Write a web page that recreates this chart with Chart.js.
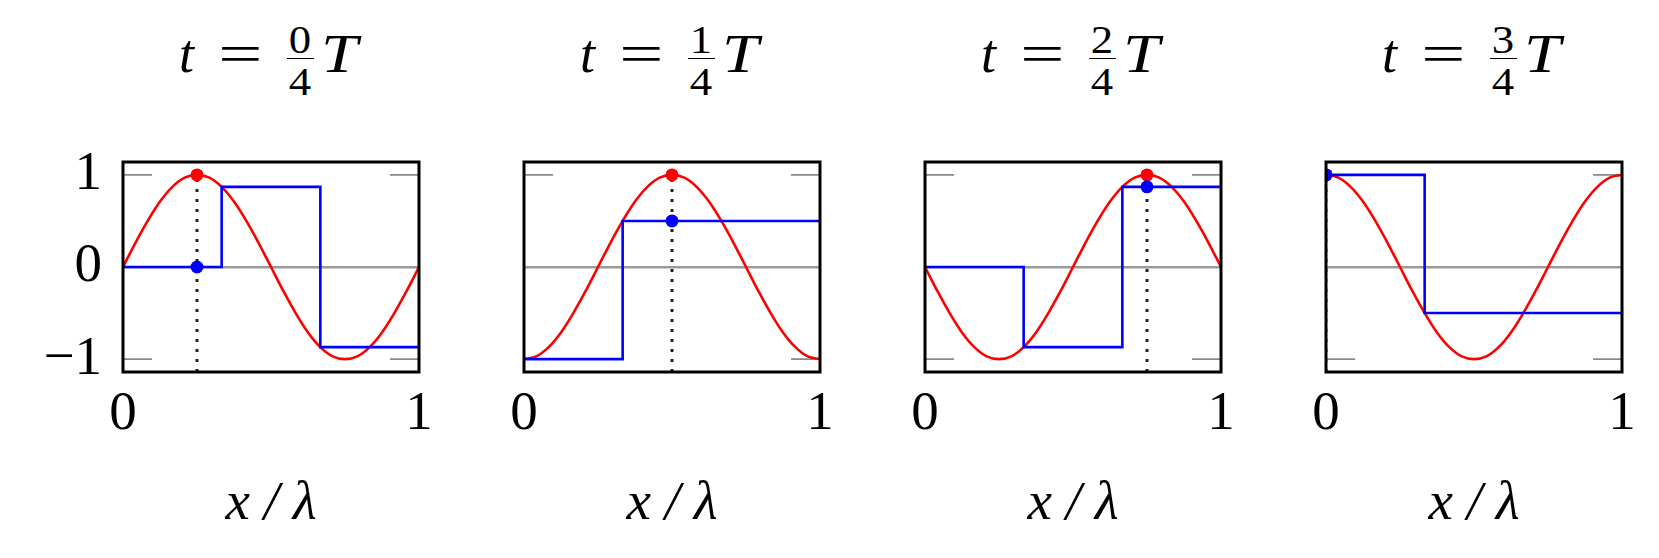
<!DOCTYPE html>
<html>
<head>
<meta charset="utf-8">
<script src="https://cdn.jsdelivr.net/npm/chart.js@4.4.0/dist/chart.umd.min.js"></script>
<style>
  html, body { margin: 0; padding: 0; background: #fff; }
  #wrap { position: relative; width: 1659px; height: 558px; overflow: hidden; }
  #wrap canvas { position: absolute; top: 100px; }
  .title {
    position: absolute; top: 0; width: 0; height: 110px;
    font-family: "Liberation Serif", serif; color: #000;
  }
  .title span { position: absolute; line-height: 0; white-space: nowrap; }
  .title .main { font-size: 54px; top: 54px; }
  .title .it { font-style: italic; }
  .title .eq { display: inline-block; transform: scaleX(1.45); transform-origin: 50% 0; }
  .title .wide { display: inline-block; transform: scaleX(1.22); transform-origin: 0 0; }
  .title .num, .title .den { font-size: 40px; transform: translateX(-50%) scaleX(1.12); }
  .title .num { top: 39.5px; }
  .title .den { top: 81.5px; }
  .title .bar { position: absolute; top: 57.7px; height: 1.3px; background: #000; }
</style>
</head>
<body>
<div id="wrap"></div>
<script>
// ── data ──────────────────────────────────────────────
const titleNumerators = ['0', '1', '2', '3'];
const titleDenominator = '4';

const xTickValues = [0, 1];
const yTickValues = [-1, 0, 1];
const yMin = -1.14, yMax = 1.14;

// wave sampled at x = k/24
const waveX = [0, 0.0417, 0.0833, 0.125, 0.1667, 0.2083, 0.25, 0.2917, 0.3333, 0.375, 0.4167, 0.4583,
               0.5, 0.5417, 0.5833, 0.625, 0.6667, 0.7083, 0.75, 0.7917, 0.8333, 0.875, 0.9167, 0.9583, 1];
const waveY0 = [0, 0.26, 0.5, 0.71, 0.87, 0.97, 1, 0.97, 0.87, 0.71, 0.5, 0.26,
                0, -0.26, -0.5, -0.71, -0.87, -0.97, -1, -0.97, -0.87, -0.71, -0.5, -0.26, 0];
const waveY1 = [-1, -0.97, -0.87, -0.71, -0.5, -0.26, 0, 0.26, 0.5, 0.71, 0.87, 0.97,
                1, 0.97, 0.87, 0.71, 0.5, 0.26, 0, -0.26, -0.5, -0.71, -0.87, -0.97, -1];
const waveY2 = [0, -0.26, -0.5, -0.71, -0.87, -0.97, -1, -0.97, -0.87, -0.71, -0.5, -0.26,
                0, 0.26, 0.5, 0.71, 0.87, 0.97, 1, 0.97, 0.87, 0.71, 0.5, 0.26, 0];
const waveY3 = [1, 0.97, 0.87, 0.71, 0.5, 0.26, 0, -0.26, -0.5, -0.71, -0.87, -0.97,
                -1, -0.97, -0.87, -0.71, -0.5, -0.26, 0, 0.26, 0.5, 0.71, 0.87, 0.97, 1];

// sampled (held) values
const stepX = [0, 0.3333, 0.6667, 1];
const stepY0 = [0, 0.87, -0.87, -0.87];
const stepY1 = [-1, 0.5, 0.5, 0.5];
const stepY2 = [0, -0.87, 0.87, 0.87];
const stepY3 = [1, -0.5, -0.5, -0.5];

const markerX = [0.25, 0.5, 0.75, 0];
const redMarkerY = [1, 1, 1, 1];
const blueMarkerY = [0, 0.5, 0.87, 1];

const waves = [waveY0, waveY1, waveY2, waveY3];
const steps = [stepY0, stepY1, stepY2, stepY3];

// ── layout ────────────────────────────────────────────
const canvasLeft = [1, 402, 803, 1204];
const CW = 448, CH = 458;
const PAD_TOP = 62;
const AXIS_W = 122, AXIS_H = 186;
const BOX_W = 296;
const serif = '"Liberation Serif", serif';

const fmt = v => v < 0 ? '\u2212' + Math.abs(v) : String(v);

/* frame + inner tick marks */
const framePlugin = {
  id: 'frame',
  beforeDatasetsDraw(chart) {
    const { ctx, chartArea: a, scales: { y } } = chart;
    ctx.save();
    ctx.strokeStyle = '#8a8a8a';
    ctx.lineWidth = 1.6;
    yTickValues.filter(v => v !== 0).forEach(v => {
      const py = y.getPixelForValue(v);
      ctx.beginPath();
      ctx.moveTo(a.left, py); ctx.lineTo(a.left + 29, py);
      ctx.moveTo(a.right - 29, py); ctx.lineTo(a.right, py);
      ctx.stroke();
    });
    ctx.restore();
  },
  afterDraw(chart) {
    const { ctx, chartArea: a } = chart;
    ctx.save();
    ctx.strokeStyle = '#000';
    ctx.lineWidth = 3;
    ctx.strokeRect(a.left, a.top, a.right - a.left, a.bottom - a.top);
    ctx.restore();
  }
};

const wrap = document.getElementById('wrap');

titleNumerators.forEach((num, i) => {
  // title: t = (num/den) T, placed around the panel centre
  const t = document.createElement('div');
  t.className = 'title';
  t.style.left = (canvasLeft[i] + AXIS_W + BOX_W / 2) + 'px';
  t.innerHTML =
    '<span class="main it" style="left:-92px">t</span>' +
    '<span class="main" style="left:-46px"><span class="eq" style="position:static">=</span></span>' +
    '<span class="num" style="left:29px">' + num + '</span>' +
    '<div class="bar" style="left:15.5px;width:27px"></div>' +
    '<span class="den" style="left:29px">' + titleDenominator + '</span>' +
    '<span class="main it" style="left:50px"><span class="wide" style="position:static">T</span></span>';
  wrap.appendChild(t);

  const cv = document.createElement('canvas');
  cv.width = CW; cv.height = CH;
  cv.style.left = canvasLeft[i] + 'px';
  wrap.appendChild(cv);

  const tickFont = { family: serif, size: 55, lineHeight: 1 };

  new Chart(cv, {
    type: 'line',
    data: {
      datasets: [
        { data: [{ x: markerX[i], y: blueMarkerY[i] }], showLine: false, pointRadius: 6.5,
          pointBackgroundColor: '#0000ff', pointBorderWidth: 0, clip: 0 },
        { data: [{ x: markerX[i], y: redMarkerY[i] }], showLine: false, pointRadius: 6.5,
          pointBackgroundColor: '#ff0000', pointBorderWidth: 0, clip: 0 },
        { data: stepX.map((x, k) => ({ x, y: steps[i][k] })), borderColor: '#0000ff',
          borderWidth: 2.6, stepped: true, pointRadius: 0, clip: 0 },
        { data: waveX.map((x, k) => ({ x, y: waves[i][k] })), borderColor: '#ff0000',
          borderWidth: 2.6, cubicInterpolationMode: 'monotone', pointRadius: 0, clip: 0 },
        { data: [{ x: markerX[i], y: yMin }, { x: markerX[i], y: yMax }], borderColor: '#222',
          borderWidth: 3, borderDash: [3, 7], pointRadius: 0, clip: 0 }
      ]
    },
    options: {
      responsive: false,
      animation: false,
      events: [],
      layout: { padding: { top: PAD_TOP, right: CW - AXIS_W - BOX_W, bottom: 0, left: 0 } },
      plugins: { legend: { display: false }, tooltip: { enabled: false } },
      scales: {
        x: {
          type: 'linear', min: 0, max: 1,
          afterBuildTicks: s => { s.ticks = xTickValues.map(v => ({ value: v })); },
          afterFit: s => { s.height = AXIS_H; },
          grid: { display: false, drawTicks: false },
          border: { display: false },
          ticks: { padding: 15, font: tickFont, color: '#000', maxRotation: 0, autoSkip: false,
                   callback: v => fmt(v) },
          title: { display: true, text: 'x / λ', color: '#000',
                   font: { family: serif, size: 55, style: 'italic', lineHeight: 1.2 },
                   padding: { top: 0, bottom: 20 } }
        },
        y: {
          type: 'linear', min: yMin, max: yMax,
          afterBuildTicks: s => { s.ticks = yTickValues.map(v => ({ value: v })); },
          afterFit: s => { s.width = AXIS_W; },
          grid: { drawTicks: false, lineWidth: 2.5,
                  color: c => (c.tick && c.tick.value === 0) ? '#9a9a9a' : 'rgba(0,0,0,0)' },
          border: { display: false },
          ticks: { display: i === 0, padding: 21, font: tickFont, color: '#000',
                   callback: v => fmt(v) }
        }
      }
    },
    plugins: [framePlugin]
  });
});
</script>
</body>
</html>
